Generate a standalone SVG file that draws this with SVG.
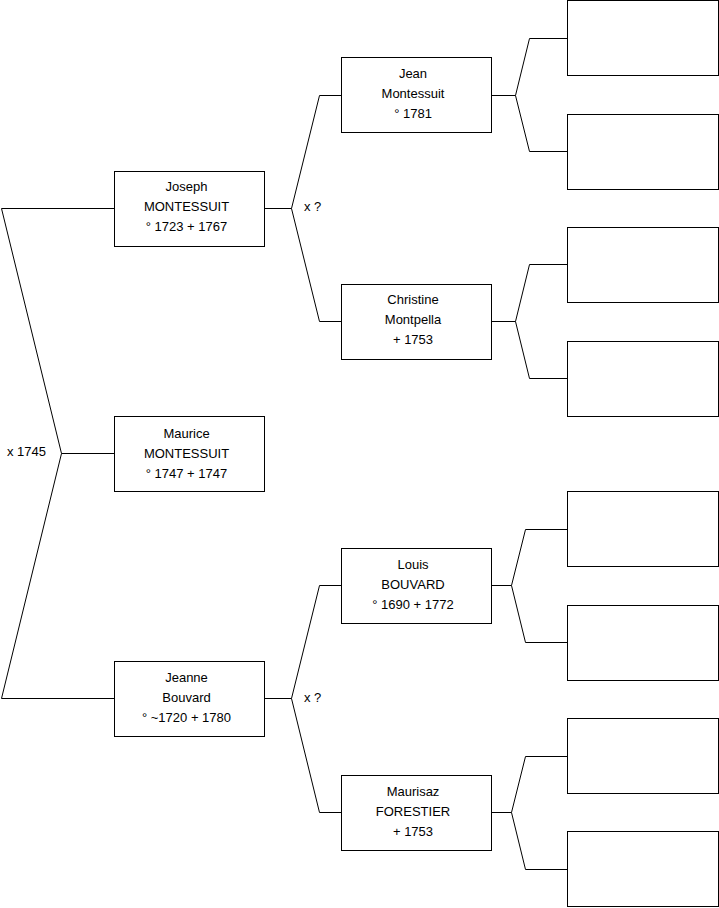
<svg xmlns="http://www.w3.org/2000/svg" width="719" height="908" viewBox="0 0 719 908">
<style>
.box{fill:#fff;stroke:#000;stroke-width:1}
.c{fill:none;stroke:#000;stroke-width:1}
text{font-family:"Liberation Sans",Arial,sans-serif;font-size:13px;fill:#000}
.m{text-anchor:middle}
</style>
<rect width="719" height="908" fill="#fff"/>
<g id="connectors">
<polyline class="c" points="114,208.5 1.5,208.5 61.5,453.5 114,453.5"/>
<polyline class="c" points="61.5,453.5 1.5,698.5 114,698.5"/>
<polyline class="c" points="265,208.5 291.5,208.5 319.5,95.5 341,95.5"/>
<polyline class="c" points="291.5,208.5 319.5,321.5 341,321.5"/>
<polyline class="c" points="265,698.5 291.5,698.5 319.5,585.5 341,585.5"/>
<polyline class="c" points="291.5,698.5 319.5,812.5 341,812.5"/>
<polyline class="c" points="492,95.5 515.5,95.5 529.5,38.5 567,38.5"/>
<polyline class="c" points="515.5,95.5 529.5,151.5 567,151.5"/>
<polyline class="c" points="492,321.5 515.5,321.5 529.5,264.5 567,264.5"/>
<polyline class="c" points="515.5,321.5 529.5,378.5 567,378.5"/>
<polyline class="c" points="492,585.5 511.5,585.5 525.5,529.5 567,529.5"/>
<polyline class="c" points="511.5,585.5 525.5,642.5 567,642.5"/>
<polyline class="c" points="492,812.5 511.5,812.5 525.5,756.5 567,756.5"/>
<polyline class="c" points="511.5,812.5 525.5,869.5 567,869.5"/>
<text x="7" y="456">x 1745</text>
<text x="304" y="211">x ?</text>
<text x="304" y="702">x ?</text>
</g>
<g id="joseph"><rect class="box" x="114.5" y="171.5" width="150" height="75"/>
<text class="m" x="186.5" y="191">Joseph</text><text class="m" x="186.5" y="211">MONTESSUIT</text><text class="m" x="186.5" y="231">° 1723 + 1767</text></g>
<g id="maurice"><rect class="box" x="114.5" y="416.5" width="150" height="75"/>
<text class="m" x="186.5" y="438">Maurice</text><text class="m" x="186.5" y="458">MONTESSUIT</text><text class="m" x="186.5" y="478">° 1747 + 1747</text></g>
<g id="jeanne"><rect class="box" x="114.5" y="661.5" width="150" height="75"/>
<text class="m" x="186.5" y="682">Jeanne</text><text class="m" x="186.5" y="702">Bouvard</text><text class="m" x="186.5" y="722">° ~1720 + 1780</text></g>
<g id="jean"><rect class="box" x="341.5" y="57.5" width="150" height="75"/>
<text class="m" x="413" y="78">Jean</text><text class="m" x="413" y="98">Montessuit</text><text class="m" x="413" y="118">° 1781</text></g>
<g id="christine"><rect class="box" x="341.5" y="284.5" width="150" height="75"/>
<text class="m" x="413" y="304">Christine</text><text class="m" x="413" y="324">Montpella</text><text class="m" x="413" y="344">+ 1753</text></g>
<g id="louis"><rect class="box" x="341.5" y="548.5" width="150" height="75"/>
<text class="m" x="413" y="569">Louis</text><text class="m" x="413" y="589">BOUVARD</text><text class="m" x="413" y="609">° 1690 + 1772</text></g>
<g id="maurisaz"><rect class="box" x="341.5" y="775.5" width="150" height="75"/>
<text class="m" x="413" y="796">Maurisaz</text><text class="m" x="413" y="816">FORESTIER</text><text class="m" x="413" y="836">+ 1753</text></g>
<g id="gp1"><rect class="box" x="567.5" y="0.5" width="151" height="75"/></g>
<g id="gp2"><rect class="box" x="567.5" y="114.5" width="151" height="75"/></g>
<g id="gp3"><rect class="box" x="567.5" y="227.5" width="151" height="75"/></g>
<g id="gp4"><rect class="box" x="567.5" y="341.5" width="151" height="75"/></g>
<g id="gp5"><rect class="box" x="567.5" y="491.5" width="151" height="75"/></g>
<g id="gp6"><rect class="box" x="567.5" y="605.5" width="151" height="75"/></g>
<g id="gp7"><rect class="box" x="567.5" y="718.5" width="151" height="75"/></g>
<g id="gp8"><rect class="box" x="567.5" y="831.5" width="151" height="75"/></g>
</svg>
